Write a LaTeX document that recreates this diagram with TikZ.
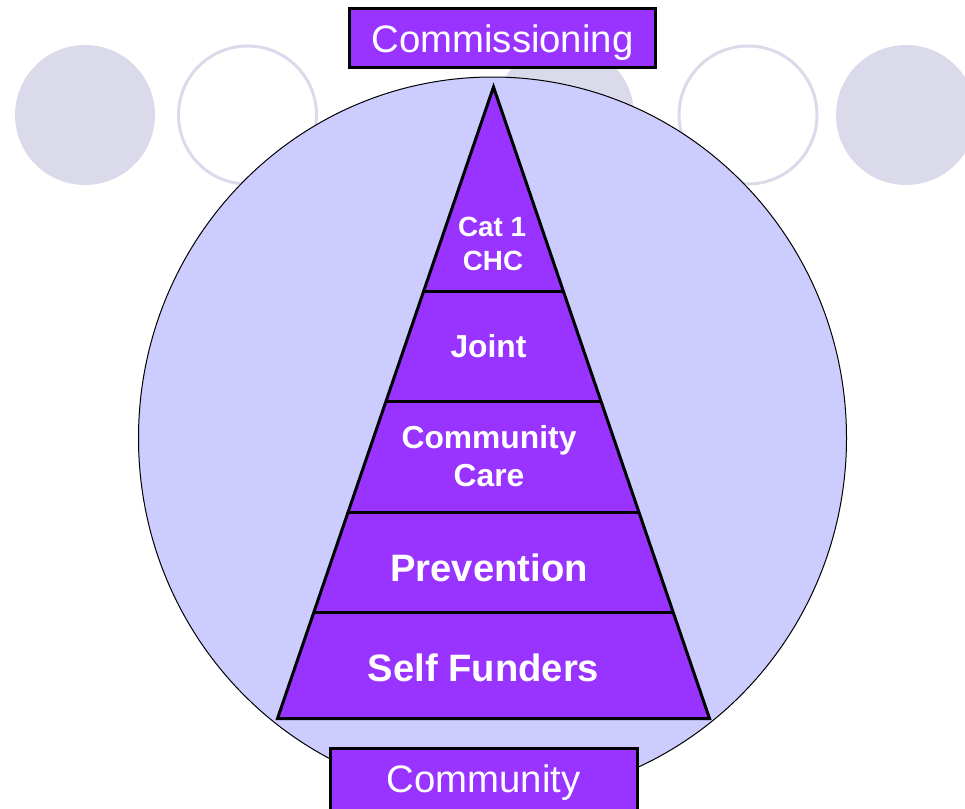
\documentclass[tikz,border=0pt]{standalone}
\usepackage{fontspec}
\setmainfont{Liberation Sans}
\usetikzlibrary{calc}
\definecolor{purp}{HTML}{9933FF}
\definecolor{lav}{HTML}{CCCCFF}
\definecolor{pale}{HTML}{DADAEB}
\tikzset{
  palefill/.style={fill=pale},
  paleline/.style={draw=pale, line width=3pt},
  boxstyle/.style={draw=black, fill=purp, line width=3pt},
  tierline/.style={draw=black, line width=3pt},
  boxtext/.style={text=white, anchor=base, inner sep=0pt, font=\fontsize{38.3}{45}\selectfont},
  tiertext/.style={text=white, anchor=base, inner sep=0pt, font=\bfseries\fontsize{#1}{#1}\selectfont},
}
\begin{document}
\begin{tikzpicture}[x=1pt,y=-1pt]
\useasboundingbox (0,0) rectangle (965,808);
\clip (0,0) rectangle (965,808);
% background circles
\fill[palefill] (85,115) circle[radius=70];
\draw[paleline] (247.5,115) circle[radius=69];
\fill[palefill] (564,115) circle[radius=70];
\draw[paleline] (748,115) circle[radius=69];
\fill[palefill] (906,115) circle[radius=70];
% big circle
\draw[fill=lav, line width=1pt] (492.5,438) ellipse[x radius=354, y radius=361];
% pyramid
\coordinate (apex) at (493.5,87);
\coordinate (bl) at (277.5,718.5);
\coordinate (br) at (709.5,718.5);
\draw[boxstyle, line join=miter] (apex) -- (br) -- (bl) -- cycle;
\foreach \t in {0.3246,0.4988,0.6730,0.8314}{
  \draw[tierline] ($(apex)!\t!(bl)$) -- ($(apex)!\t!(br)$);
}
% tier texts
\node[tiertext=27.8] (t1a) at (492,236) {Cat 1};
\node[tiertext=27.8] (t1b) at (493,270.7) {CHC};
\node[tiertext=31.8] (t2) at (488.5,357) {Joint};
\node[tiertext=31.8] (t3a) at (489,448) {Community};
\node[tiertext=31.8] (t3b) at (489,486.7) {Care};
\node[tiertext=38.2] (t4) at (489,581.7) {Prevention};
\node[tiertext=38.2] (t5) at (483.5,681.7) {Self Funders};
% boxes
\draw[boxstyle] (349.5,8.5) rectangle (655.5,67.5);
\node[boxtext] (commissioning) at (502.5,52.7) {Commissioning};
\draw[boxstyle] (330.5,748.5) rectangle (637.5,830);
\node[boxtext] (community) at (483.5,792) {Community};
\end{tikzpicture}
\end{document}
